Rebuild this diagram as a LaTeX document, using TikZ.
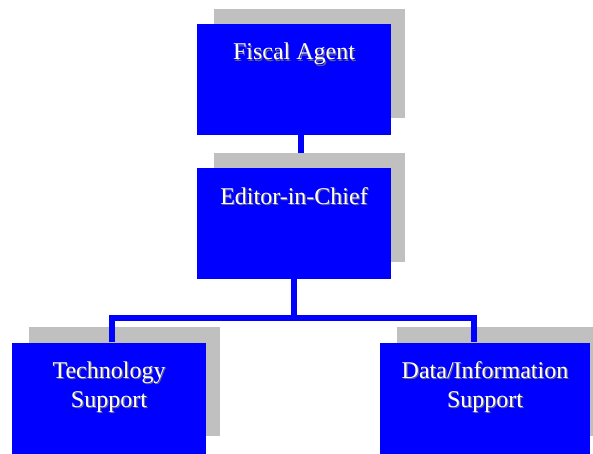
\documentclass[tikz,border=0pt]{standalone}
\usepackage{fontspec}
\setmainfont{Liberation Serif}
\usetikzlibrary{shadows,backgrounds}
\definecolor{unitblue}{RGB}{0,0,255}
\definecolor{dropgray}{RGB}{192,192,192}
\definecolor{lettershade}{RGB}{100,100,130}
\newcommand{\shaded}[1]{\rlap{\hspace{1.2pt}\raisebox{-1.2pt}{\color{lettershade}\begin{tabular}[t]{@{}c@{}}#1\end{tabular}}}\begin{tabular}[t]{@{}c@{}}#1\end{tabular}}
\tikzset{
	unit/.style={fill=unitblue, text=white, inner sep=0pt, minimum width=194pt,
		text height=36pt, text depth=75pt,
		general shadow={fill=dropgray, shadow scale=0.985, shadow xshift=16pt, shadow yshift=16.5pt}},
	link/.style={draw=unitblue, line width=6pt}
}
\begin{document}
\begin{tikzpicture}[x=1pt, y=1pt, font=\fontsize{24}{29}\selectfont, line join=miter]
	\useasboundingbox (0,0) rectangle (593,453);
	\node[unit] (fiscal) at (294,373.5) {\shaded{Fiscal Agent}};
	\node[unit] (editor) at (294,229.5) {\shaded{Editor-in-Chief}};
	\node[unit] (tech) at (109,55) {\shaded{Technology\\Support}};
	\node[unit, minimum width=210pt] (data) at (485,55) {\shaded{Data/Information\\Support}};
	\coordinate (bus) at (294,135);
	\begin{scope}[on background layer]
		\draw[link] ([xshift=7pt]fiscal.south) -- ([xshift=7pt]editor.north);
	\end{scope}
	\draw[link] (editor.south) -- (editor.south |- bus);
	\draw[link] ([xshift=3pt]tech.north) |- (bus) -| ([xshift=-11.5pt]data.north);
\end{tikzpicture}
\end{document}
